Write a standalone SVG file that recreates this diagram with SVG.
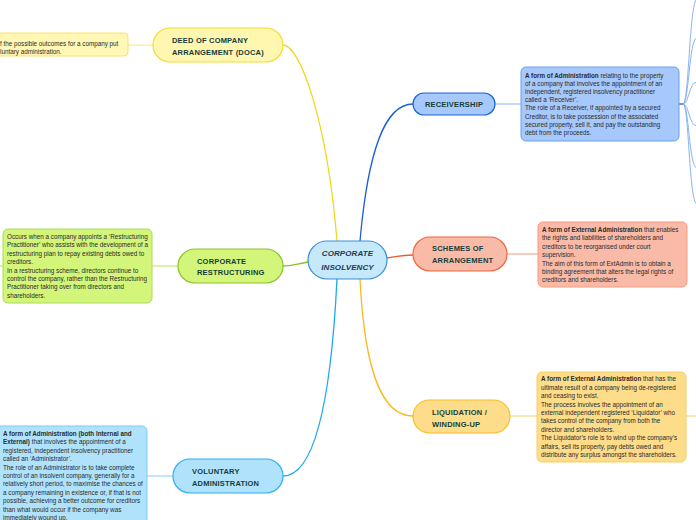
<svg xmlns="http://www.w3.org/2000/svg" width="696" height="520" viewBox="0 0 696 520">
<style>
.node text{font-family:"Liberation Sans",Arial,sans-serif;font-weight:bold;font-size:7.5px;letter-spacing:0.2px;fill:#173d38}
.note text{font-family:"Liberation Sans",Arial,sans-serif;font-size:6.3px;fill:#2a2a2a}
.note .b{font-weight:bold}
.conn path{fill:none;stroke-width:1.3}
.conn .thin{stroke-width:1}
</style>
<rect width="696" height="520" fill="#ffffff"/>
<g id="connectors" class="conn">
  <path d="M337,241 C327,120 300,45 283,45" stroke="#f0d820"/>
  <path d="M360,241 C368,150 385,104 413,104" stroke="#1a5fd6"/>
  <path d="M387,258 C400,256 402,255 413,255" stroke="#f05a30"/>
  <path d="M308,262 C296,264 292,266 283,266" stroke="#8cbf26"/>
  <path d="M360,279 C365,380 385,416 413,416" stroke="#fbb820"/>
  <path d="M337,279 C330,420 310,476 283,476" stroke="#1ea8ee"/>
  <path class="thin" d="M128,45 L153,45" stroke="#f5e68a"/>
  <path class="thin" d="M495,104 L521,104" stroke="#8ab4f0"/>
  <path class="thin" d="M507,254 L538,254" stroke="#f39a80"/>
  <path class="thin" d="M510,416 L537,416" stroke="#f8cf70"/>
  <path class="thin" d="M686,416 L696,416" stroke="#f8cf70"/>
  <path class="thin" d="M152,266 L178,266" stroke="#b5e06a"/>
  <path class="thin" d="M0,266 L3,266" stroke="#b5e06a"/>
  <path class="thin" d="M147,476 L173,476" stroke="#88d0f5"/>
  <path d="M679,104 L683,104" stroke="#1a5fd6" stroke-width="1.3"/>
  <path class="thin" d="M683,104 C689,104 689,5 697,-2" stroke="#8ab4f0"/>
  <path class="thin" d="M683,104 C689,104 689,38 697,38" stroke="#8ab4f0"/>
  <path class="thin" d="M683,104 C689,104 689,82 697,82" stroke="#8ab4f0"/>
  <path class="thin" d="M683,104 C689,104 689,126 697,126" stroke="#8ab4f0"/>
  <path class="thin" d="M683,104 C689,104 689,168 697,168" stroke="#8ab4f0"/>
  <path class="thin" d="M683,104 C689,104 689,204 697,204" stroke="#8ab4f0"/>
</g>
<g id="center" class="node">
  <rect x="308" y="241" width="79" height="38" rx="19" fill="#c5e8fb" stroke="#3d8fd6" stroke-width="1.2"/>
  <text x="347.5" y="255.5" text-anchor="middle" style="font-style:italic;font-size:8px;letter-spacing:0.1px;fill:#1d3a4e">CORPORATE</text>
  <text x="347.5" y="270" text-anchor="middle" style="font-style:italic;font-size:8px;letter-spacing:0.1px;fill:#1d3a4e">INSOLVENCY</text>
</g>
<g id="doca" class="node">
  <rect x="153" y="28" width="130" height="34" rx="17" fill="#fff6b0" stroke="#f5dc30" stroke-width="1.2"/>
  <text x="172" y="42.5">DEED OF COMPANY</text>
  <text x="172" y="54.5">ARRANGEMENT (DOCA)</text>
</g>
<g id="receivership" class="node">
  <rect x="413" y="93" width="82" height="22" rx="11" fill="#a6c8fb" stroke="#1a66d9" stroke-width="1.2"/>
  <text x="454" y="106.5" text-anchor="middle">RECEIVERSHIP</text>
</g>
<g id="schemes" class="node">
  <rect x="413" y="237" width="94" height="34" rx="17" fill="#f9bba8" stroke="#f0643c" stroke-width="1.2"/>
  <text x="432" y="251">SCHEMES OF</text>
  <text x="432" y="263">ARRANGEMENT</text>
</g>
<g id="liquidation" class="node">
  <rect x="413" y="400" width="97" height="33" rx="16.5" fill="#fddc8a" stroke="#f8be2a" stroke-width="1.2"/>
  <text x="432" y="415">LIQUIDATION /</text>
  <text x="432" y="426.5">WINDING-UP</text>
</g>
<g id="voluntary" class="node">
  <rect x="173" y="459" width="110" height="34" rx="17" fill="#b0e3fb" stroke="#28aef0" stroke-width="1.2"/>
  <text x="192" y="474">VOLUNTARY</text>
  <text x="192" y="485.5">ADMINISTRATION</text>
</g>
<g id="restructuring" class="node">
  <rect x="178" y="249" width="105" height="34" rx="17" fill="#d3f57a" stroke="#8cc32a" stroke-width="1.2"/>
  <text x="197" y="264">CORPORATE</text>
  <text x="197" y="275">RESTRUCTURING</text>
</g>
<g id="doca-note" class="note">
  <rect x="-10" y="33" width="138" height="23" rx="4" fill="#fff7b3" stroke="#f5e070" stroke-width="1"/>
  <text x="0" y="46">f the possible outcomes for a company put</text>
  <text x="0" y="54">luntary administration.</text>
</g>
<g id="receivership-note" class="note">
  <rect x="521" y="67" width="158" height="74" rx="5" fill="#a6c8fb" stroke="#6aa0ee" stroke-width="1"/>
  <text x="525" y="77.5"><tspan class="b">A form of Administration</tspan> relating to the property</text>
  <text x="525" y="85.7">of a company that involves the appointment of an</text>
  <text x="525" y="93.9">independent, registered insolvency practitioner</text>
  <text x="525" y="102.1">called a ‘Receiver’.</text>
  <text x="525" y="110.3">The role of a Receiver, if appointed by a secured</text>
  <text x="525" y="118.5">Creditor, is to take possession of the associated</text>
  <text x="525" y="126.7">secured property, sell it, and pay the outstanding</text>
  <text x="525" y="134.9">debt from the proceeds.</text>
</g>
<g id="schemes-note" class="note">
  <rect x="538" y="222" width="149" height="65" rx="5" fill="#f9bba8" stroke="#f39a80" stroke-width="1"/>
  <text x="542" y="232"><tspan class="b">A form of External Administration</tspan> that enables</text>
  <text x="542" y="240.4">the rights and liabilities of shareholders and</text>
  <text x="542" y="248.8">creditors to be reorganised under court</text>
  <text x="542" y="257.2">supervision.</text>
  <text x="542" y="265.6">The aim of this form of ExtAdmin is to obtain a</text>
  <text x="542" y="274">binding agreement that alters the legal rights of</text>
  <text x="542" y="282.4">creditors and shareholders.</text>
</g>
<g id="liquidation-note" class="note">
  <rect x="537" y="372" width="149" height="90" rx="5" fill="#fddc8a" stroke="#f8cf60" stroke-width="1"/>
  <text x="541" y="381.2"><tspan class="b">A form of External Administration</tspan> that has the</text>
  <text x="541" y="389.6">ultimate result of a company being de-registered</text>
  <text x="541" y="398">and ceasing to exist.</text>
  <text x="541" y="406.5">The process involves the appointment of an</text>
  <text x="541" y="414.9">external independent registered ‘Liquidator’ who</text>
  <text x="541" y="423.3">takes control of the company from both the</text>
  <text x="541" y="431.7">director and shareholders.</text>
  <text x="541" y="440.1">The Liquidator’s role is to wind up the company’s</text>
  <text x="541" y="448.5">affairs, sell its property, pay debts owed and</text>
  <text x="541" y="457">distribute any surplus amongst the shareholders.</text>
</g>
<g id="restructuring-note" class="note">
  <rect x="3" y="229" width="149" height="74" rx="5" fill="#d3f57a" stroke="#a9dc5a" stroke-width="1"/>
  <text x="7" y="239">Occurs when a company appoints a ‘Restructuring</text>
  <text x="7" y="247.4">Practitioner’ who assists with the development of a</text>
  <text x="7" y="255.8">restructuring plan to repay existing debts owed to</text>
  <text x="7" y="264.2">creditors.</text>
  <text x="7" y="272.6">In a restructuring scheme, directors continue to</text>
  <text x="7" y="281">control the company, rather than the Restructuring</text>
  <text x="7" y="289.4">Practitioner taking over from directors and</text>
  <text x="7" y="297.8">shareholders.</text>
</g>
<g id="voluntary-note" class="note">
  <rect x="-5" y="426" width="152" height="110" rx="5" fill="#b0e3fb" stroke="#7ccaf3" stroke-width="1"/>
  <text x="3" y="436"><tspan class="b">A form of Administration (both Internal and</tspan></text>
  <text x="3" y="444.4"><tspan class="b">External)</tspan> that involves the appointment of a</text>
  <text x="3" y="452.8">registered, independent insolvency practitioner</text>
  <text x="3" y="461.2">called an ‘Administrator’.</text>
  <text x="3" y="469.6">The role of an Administrator is to take complete</text>
  <text x="3" y="478">control of an insolvent company, generally for a</text>
  <text x="3" y="486.4">relatively short period, to maximise the chances of</text>
  <text x="3" y="494.8">a company remaining in existence or, if that is not</text>
  <text x="3" y="503.2">possible, achieving a better outcome for creditors</text>
  <text x="3" y="511.6">than what would occur if the company was</text>
  <text x="3" y="520">immediately wound up.</text>
</g>
</svg>
